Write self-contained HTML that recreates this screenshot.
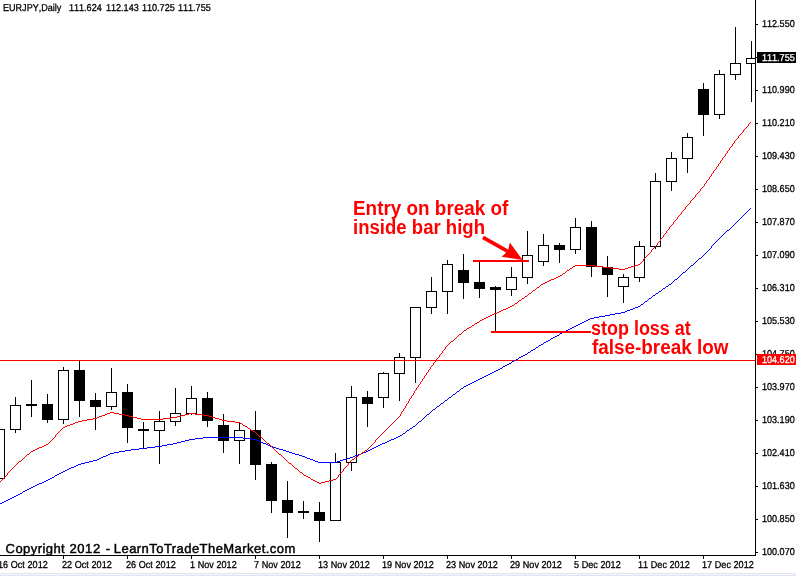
<!DOCTYPE html>
<html><head><meta charset="utf-8"><title>EURJPY Daily</title>
<style>
html,body{margin:0;padding:0;background:#fff;}
body{width:796px;height:576px;position:relative;overflow:hidden;font-family:"Liberation Sans",sans-serif;}
svg{position:absolute;left:0;top:0;}
.t{position:absolute;white-space:nowrap;font-size:10px;line-height:12px;color:#000;letter-spacing:0;-webkit-text-stroke:0.3px #000;text-rendering:geometricPrecision;font-kerning:none;transform:scaleX(0.905);transform-origin:0 0;}
.dt{letter-spacing:0.05px;}
.w{color:#fff;-webkit-text-stroke:0.3px #fff;}
.a{position:absolute;white-space:nowrap;font-weight:bold;color:#ff0000;font-size:19px;line-height:19px;transform-origin:0 16px;}
.cp{position:absolute;white-space:nowrap;font-weight:normal;color:#000;font-size:13px;line-height:16px;letter-spacing:0.47px;-webkit-text-stroke:0.45px #000;transform:translateY(0.6px);text-rendering:geometricPrecision;}
</style></head><body>
<svg width="796" height="576" viewBox="0 0 796 576" shape-rendering="crispEdges">
<rect x="0" y="0" width="796" height="576" fill="#fff"/>
<clipPath id="cl"><rect x="0" y="0" width="755" height="555"/></clipPath>
<g id="candles" clip-path="url(#cl)">
<rect x="-1" y="429" width="1" height="50" fill="#000"/>
<rect x="-6" y="429" width="11" height="50" fill="#000"/>
<rect x="-5" y="430" width="9" height="48" fill="#fff"/>
<rect x="15" y="397" width="1" height="36" fill="#000"/>
<rect x="10" y="405" width="11" height="25" fill="#000"/>
<rect x="11" y="406" width="9" height="23" fill="#fff"/>
<rect x="31" y="380" width="1" height="37" fill="#000"/>
<rect x="26" y="404" width="11" height="2" fill="#000"/>
<rect x="47" y="394" width="1" height="29" fill="#000"/>
<rect x="42" y="404" width="11" height="16" fill="#000"/>
<rect x="63" y="367" width="1" height="57" fill="#000"/>
<rect x="58" y="370" width="11" height="50" fill="#000"/>
<rect x="59" y="371" width="9" height="48" fill="#fff"/>
<rect x="79" y="360" width="1" height="57" fill="#000"/>
<rect x="74" y="370" width="11" height="31" fill="#000"/>
<rect x="95" y="393" width="1" height="37" fill="#000"/>
<rect x="90" y="400" width="11" height="7" fill="#000"/>
<rect x="111" y="368" width="1" height="42" fill="#000"/>
<rect x="106" y="392" width="11" height="15" fill="#000"/>
<rect x="107" y="393" width="9" height="13" fill="#fff"/>
<rect x="127" y="384" width="1" height="59" fill="#000"/>
<rect x="122" y="392" width="11" height="36" fill="#000"/>
<rect x="143" y="422" width="1" height="27" fill="#000"/>
<rect x="138" y="429" width="11" height="2" fill="#000"/>
<rect x="159" y="411" width="1" height="53" fill="#000"/>
<rect x="154" y="421" width="11" height="10" fill="#000"/>
<rect x="155" y="422" width="9" height="8" fill="#fff"/>
<rect x="175" y="388" width="1" height="38" fill="#000"/>
<rect x="170" y="413" width="11" height="9" fill="#000"/>
<rect x="171" y="414" width="9" height="7" fill="#fff"/>
<rect x="191" y="386" width="1" height="29" fill="#000"/>
<rect x="186" y="398" width="11" height="16" fill="#000"/>
<rect x="187" y="399" width="9" height="14" fill="#fff"/>
<rect x="207" y="392" width="1" height="35" fill="#000"/>
<rect x="202" y="398" width="11" height="23" fill="#000"/>
<rect x="223" y="414" width="1" height="39" fill="#000"/>
<rect x="218" y="425" width="11" height="16" fill="#000"/>
<rect x="239" y="422" width="1" height="42" fill="#000"/>
<rect x="234" y="430" width="11" height="11" fill="#000"/>
<rect x="235" y="431" width="9" height="9" fill="#fff"/>
<rect x="255" y="411" width="1" height="69" fill="#000"/>
<rect x="250" y="430" width="11" height="35" fill="#000"/>
<rect x="271" y="462" width="1" height="51" fill="#000"/>
<rect x="266" y="464" width="11" height="37" fill="#000"/>
<rect x="287" y="481" width="1" height="57" fill="#000"/>
<rect x="282" y="500" width="11" height="13" fill="#000"/>
<rect x="303" y="501" width="1" height="18" fill="#000"/>
<rect x="298" y="511" width="11" height="2" fill="#000"/>
<rect x="319" y="502" width="1" height="40" fill="#000"/>
<rect x="314" y="512" width="11" height="9" fill="#000"/>
<rect x="335" y="453" width="1" height="68" fill="#000"/>
<rect x="330" y="462" width="11" height="59" fill="#000"/>
<rect x="331" y="463" width="9" height="57" fill="#fff"/>
<rect x="351" y="386" width="1" height="85" fill="#000"/>
<rect x="346" y="397" width="11" height="66" fill="#000"/>
<rect x="347" y="398" width="9" height="64" fill="#fff"/>
<rect x="367" y="391" width="1" height="36" fill="#000"/>
<rect x="362" y="397" width="11" height="7" fill="#000"/>
<rect x="383" y="372" width="1" height="36" fill="#000"/>
<rect x="378" y="373" width="11" height="25" fill="#000"/>
<rect x="379" y="374" width="9" height="23" fill="#fff"/>
<rect x="399" y="353" width="1" height="48" fill="#000"/>
<rect x="394" y="357" width="11" height="17" fill="#000"/>
<rect x="395" y="358" width="9" height="15" fill="#fff"/>
<rect x="415" y="307" width="1" height="76" fill="#000"/>
<rect x="410" y="307" width="11" height="51" fill="#000"/>
<rect x="411" y="308" width="9" height="49" fill="#fff"/>
<rect x="431" y="277" width="1" height="37" fill="#000"/>
<rect x="426" y="291" width="11" height="17" fill="#000"/>
<rect x="427" y="292" width="9" height="15" fill="#fff"/>
<rect x="447" y="260" width="1" height="54" fill="#000"/>
<rect x="442" y="264" width="11" height="28" fill="#000"/>
<rect x="443" y="265" width="9" height="26" fill="#fff"/>
<rect x="463" y="254" width="1" height="45" fill="#000"/>
<rect x="458" y="270" width="11" height="13" fill="#000"/>
<rect x="479" y="261" width="1" height="37" fill="#000"/>
<rect x="474" y="282" width="11" height="7" fill="#000"/>
<rect x="495" y="286" width="1" height="45" fill="#000"/>
<rect x="490" y="287" width="11" height="3" fill="#000"/>
<rect x="511" y="267" width="1" height="29" fill="#000"/>
<rect x="506" y="277" width="11" height="13" fill="#000"/>
<rect x="507" y="278" width="9" height="11" fill="#fff"/>
<rect x="527" y="231" width="1" height="53" fill="#000"/>
<rect x="522" y="255" width="11" height="23" fill="#000"/>
<rect x="523" y="256" width="9" height="21" fill="#fff"/>
<rect x="543" y="234" width="1" height="32" fill="#000"/>
<rect x="538" y="245" width="11" height="17" fill="#000"/>
<rect x="539" y="246" width="9" height="15" fill="#fff"/>
<rect x="559" y="243" width="1" height="20" fill="#000"/>
<rect x="554" y="245" width="11" height="5" fill="#000"/>
<rect x="575" y="218" width="1" height="36" fill="#000"/>
<rect x="570" y="227" width="11" height="23" fill="#000"/>
<rect x="571" y="228" width="9" height="21" fill="#fff"/>
<rect x="591" y="221" width="1" height="56" fill="#000"/>
<rect x="586" y="227" width="11" height="40" fill="#000"/>
<rect x="607" y="256" width="1" height="41" fill="#000"/>
<rect x="602" y="267" width="11" height="8" fill="#000"/>
<rect x="623" y="274" width="1" height="29" fill="#000"/>
<rect x="618" y="277" width="11" height="10" fill="#000"/>
<rect x="619" y="278" width="9" height="8" fill="#fff"/>
<rect x="639" y="241" width="1" height="41" fill="#000"/>
<rect x="634" y="246" width="11" height="32" fill="#000"/>
<rect x="635" y="247" width="9" height="30" fill="#fff"/>
<rect x="655" y="173" width="1" height="76" fill="#000"/>
<rect x="650" y="181" width="11" height="66" fill="#000"/>
<rect x="651" y="182" width="9" height="64" fill="#fff"/>
<rect x="671" y="152" width="1" height="39" fill="#000"/>
<rect x="666" y="158" width="11" height="24" fill="#000"/>
<rect x="667" y="159" width="9" height="22" fill="#fff"/>
<rect x="687" y="133" width="1" height="40" fill="#000"/>
<rect x="682" y="137" width="11" height="22" fill="#000"/>
<rect x="683" y="138" width="9" height="20" fill="#fff"/>
<rect x="703" y="83" width="1" height="53" fill="#000"/>
<rect x="698" y="89" width="11" height="26" fill="#000"/>
<rect x="719" y="70" width="1" height="49" fill="#000"/>
<rect x="714" y="74" width="11" height="41" fill="#000"/>
<rect x="715" y="75" width="9" height="39" fill="#fff"/>
<rect x="735" y="27" width="1" height="53" fill="#000"/>
<rect x="730" y="63" width="11" height="12" fill="#000"/>
<rect x="731" y="64" width="9" height="10" fill="#fff"/>
<rect x="751" y="41" width="1" height="61" fill="#000"/>
<rect x="746" y="58" width="11" height="6" fill="#000"/>
<rect x="747" y="59" width="9" height="4" fill="#fff"/>
</g>
<rect x="0" y="360" width="755" height="1" fill="#ff0000"/>
<path d="M750 208h1v1h-1zM749 209h1v1h-1zM748 210h1v1h-1zM747 211h1v1h-1zM746 212h1v1h-1zM745 213h1v1h-1zM744 214h1v1h-1zM743 215h1v1h-1zM742 216h1v1h-1zM741 217h1v1h-1zM740 218h1v1h-1zM739 219h1v1h-1zM738 220h1v1h-1zM737 221h1v1h-1zM736 222h1v1h-1zM735 223h1v1h-1zM734 224h1v1h-1zM733 225h1v1h-1zM732 226h1v1h-1zM731 227h1v1h-1zM730 228h1v1h-1zM729 229h1v1h-1zM727 230h2v1h-2zM726 231h1v1h-1zM725 232h1v1h-1zM724 233h1v1h-1zM723 234h1v1h-1zM722 235h1v1h-1zM721 236h1v1h-1zM720 237h1v1h-1zM719 238h1v1h-1zM718 239h1v1h-1zM717 240h1v1h-1zM716 241h1v1h-1zM715 242h1v1h-1zM714 243h1v1h-1zM713 244h1v1h-1zM712 245h1v1h-1zM711 246h1v2h-1zM710 248h1v1h-1zM709 249h1v1h-1zM708 250h1v1h-1zM707 251h1v1h-1zM706 252h1v1h-1zM705 253h1v1h-1zM704 254h1v1h-1zM703 255h1v1h-1zM702 256h1v1h-1zM701 257h1v1h-1zM699 258h2v1h-2zM698 259h1v1h-1zM697 260h1v1h-1zM696 261h1v1h-1zM695 262h1v1h-1zM694 263h1v1h-1zM693 264h1v1h-1zM691 265h2v1h-2zM690 266h1v1h-1zM689 267h1v1h-1zM688 268h1v1h-1zM687 269h1v1h-1zM686 270h1v1h-1zM685 271h1v1h-1zM683 272h2v1h-2zM682 273h1v1h-1zM681 274h1v1h-1zM680 275h1v1h-1zM679 276h1v1h-1zM678 277h1v1h-1zM677 278h1v1h-1zM675 279h2v1h-2zM674 280h1v1h-1zM673 281h1v1h-1zM672 282h1v1h-1zM671 283h1v1h-1zM669 284h2v1h-2zM668 285h1v1h-1zM666 286h2v1h-2zM665 287h1v1h-1zM663 288h2v1h-2zM662 289h1v1h-1zM661 290h1v1h-1zM659 291h2v1h-2zM658 292h1v1h-1zM656 293h2v1h-2zM655 294h1v1h-1zM653 295h2v1h-2zM652 296h1v1h-1zM651 297h1v1h-1zM649 298h2v1h-2zM648 299h1v1h-1zM647 300h1v1h-1zM645 301h2v1h-2zM644 302h1v1h-1zM643 303h1v1h-1zM641 304h2v1h-2zM640 305h1v1h-1zM638 306h2v1h-2zM635 307h3v1h-3zM633 308h2v1h-2zM630 309h3v1h-3zM627 310h3v1h-3zM625 311h2v1h-2zM621 312h4v1h-4zM615 313h6v1h-6zM610 314h5v1h-5zM605 315h5v1h-5zM599 316h6v1h-6zM594 317h5v1h-5zM590 318h4v1h-4zM588 319h2v1h-2zM586 320h2v1h-2zM584 321h2v1h-2zM582 322h2v1h-2zM580 323h2v1h-2zM578 324h2v1h-2zM576 325h2v1h-2zM574 326h2v1h-2zM572 327h2v1h-2zM570 328h2v1h-2zM568 329h2v1h-2zM566 330h2v1h-2zM564 331h2v1h-2zM562 332h2v1h-2zM560 333h2v1h-2zM559 334h1v1h-1zM557 335h2v1h-2zM555 336h2v1h-2zM553 337h2v1h-2zM551 338h2v1h-2zM550 339h1v1h-1zM548 340h2v1h-2zM546 341h2v1h-2zM544 342h2v1h-2zM543 343h1v1h-1zM541 344h2v1h-2zM539 345h2v1h-2zM538 346h1v1h-1zM536 347h2v1h-2zM535 348h1v1h-1zM533 349h2v1h-2zM531 350h2v1h-2zM530 351h1v1h-1zM528 352h2v1h-2zM527 353h1v1h-1zM525 354h2v1h-2zM523 355h2v1h-2zM521 356h2v1h-2zM519 357h2v1h-2zM518 358h1v1h-1zM516 359h2v1h-2zM514 360h2v1h-2zM512 361h2v1h-2zM511 362h1v1h-1zM509 363h2v1h-2zM507 364h2v1h-2zM505 365h2v1h-2zM503 366h2v1h-2zM502 367h1v1h-1zM500 368h2v1h-2zM498 369h2v1h-2zM496 370h2v1h-2zM494 371h2v1h-2zM492 372h2v1h-2zM490 373h2v1h-2zM488 374h2v1h-2zM486 375h2v1h-2zM484 376h2v1h-2zM482 377h2v1h-2zM480 378h2v1h-2zM478 379h2v1h-2zM476 380h2v1h-2zM474 381h2v1h-2zM472 382h2v1h-2zM470 383h2v1h-2zM468 384h2v1h-2zM466 385h2v1h-2zM464 386h2v1h-2zM463 387h1v1h-1zM461 388h2v1h-2zM460 389h1v1h-1zM459 390h1v1h-1zM457 391h2v1h-2zM456 392h1v1h-1zM455 393h1v1h-1zM453 394h2v1h-2zM452 395h1v1h-1zM451 396h1v1h-1zM449 397h2v1h-2zM448 398h1v1h-1zM447 399h1v1h-1zM445 400h2v1h-2zM444 401h1v1h-1zM443 402h1v1h-1zM441 403h2v1h-2zM440 404h1v1h-1zM439 405h1v1h-1zM437 406h2v1h-2zM436 407h1v1h-1zM435 408h1v1h-1zM433 409h2v1h-2zM432 410h1v1h-1zM431 411h1v1h-1zM430 412h1v1h-1zM429 413h1v1h-1zM427 414h2v1h-2zM426 415h1v1h-1zM425 416h1v1h-1zM424 417h1v1h-1zM423 418h1v1h-1zM422 419h1v1h-1zM421 420h1v1h-1zM419 421h2v1h-2zM418 422h1v1h-1zM417 423h1v1h-1zM416 424h1v1h-1zM415 425h1v1h-1zM413 426h2v1h-2zM412 427h1v1h-1zM410 428h2v1h-2zM409 429h1v1h-1zM407 430h2v1h-2zM406 431h1v1h-1zM405 432h1v1h-1zM403 433h2v1h-2zM402 434h1v1h-1zM400 435h2v1h-2zM398 436h2v1h-2zM203 437h40v1h-40zM396 437h2v1h-2zM195 438h8v1h-8zM243 438h8v1h-8zM394 438h2v1h-2zM189 439h6v1h-6zM251 439h6v1h-6zM391 439h3v1h-3zM185 440h4v1h-4zM257 440h2v1h-2zM389 440h2v1h-2zM181 441h4v1h-4zM259 441h2v1h-2zM387 441h2v1h-2zM177 442h4v1h-4zM261 442h2v1h-2zM385 442h2v1h-2zM173 443h4v1h-4zM263 443h3v1h-3zM382 443h3v1h-3zM167 444h6v1h-6zM266 444h2v1h-2zM380 444h2v1h-2zM162 445h5v1h-5zM268 445h2v1h-2zM378 445h2v1h-2zM155 446h7v1h-7zM270 446h3v1h-3zM376 446h2v1h-2zM147 447h8v1h-8zM273 447h3v1h-3zM374 447h2v1h-2zM139 448h8v1h-8zM276 448h3v1h-3zM372 448h2v1h-2zM131 449h8v1h-8zM279 449h4v1h-4zM370 449h2v1h-2zM125 450h6v1h-6zM283 450h3v1h-3zM368 450h2v1h-2zM119 451h6v1h-6zM286 451h3v1h-3zM366 451h2v1h-2zM114 452h5v1h-5zM289 452h3v1h-3zM363 452h3v1h-3zM110 453h4v1h-4zM292 453h3v1h-3zM361 453h2v1h-2zM108 454h2v1h-2zM295 454h4v1h-4zM358 454h3v1h-3zM106 455h2v1h-2zM299 455h3v1h-3zM355 455h3v1h-3zM103 456h3v1h-3zM302 456h3v1h-3zM353 456h2v1h-2zM101 457h2v1h-2zM305 457h2v1h-2zM350 457h3v1h-3zM99 458h2v1h-2zM307 458h3v1h-3zM347 458h3v1h-3zM97 459h2v1h-2zM310 459h3v1h-3zM343 459h4v1h-4zM93 460h4v1h-4zM313 460h2v1h-2zM340 460h3v1h-3zM89 461h4v1h-4zM315 461h3v1h-3zM337 461h3v1h-3zM85 462h4v1h-4zM318 462h19v1h-19zM81 463h4v1h-4zM78 464h3v1h-3zM76 465h2v1h-2zM74 466h2v1h-2zM71 467h3v1h-3zM69 468h2v1h-2zM67 469h2v1h-2zM65 470h2v1h-2zM63 471h2v1h-2zM61 472h2v1h-2zM59 473h2v1h-2zM57 474h2v1h-2zM55 475h2v1h-2zM54 476h1v1h-1zM52 477h2v1h-2zM50 478h2v1h-2zM48 479h2v1h-2zM46 480h2v1h-2zM44 481h2v1h-2zM42 482h2v1h-2zM39 483h3v1h-3zM37 484h2v1h-2zM35 485h2v1h-2zM33 486h2v1h-2zM31 487h2v1h-2zM29 488h2v1h-2zM27 489h2v1h-2zM25 490h2v1h-2zM23 491h2v1h-2zM22 492h1v1h-1zM20 493h2v1h-2zM18 494h2v1h-2zM16 495h2v1h-2zM14 496h2v1h-2zM12 497h2v1h-2zM10 498h2v1h-2zM8 499h2v1h-2zM6 500h2v1h-2zM4 501h2v1h-2zM2 502h2v1h-2zM0 503h2v1h-2z" fill="#0000ff"/>
<path d="M750 122h1v1h-1zM749 123h1v1h-1zM748 124h1v2h-1zM747 126h1v1h-1zM746 127h1v1h-1zM745 128h1v1h-1zM744 129h1v1h-1zM743 130h1v2h-1zM742 132h1v1h-1zM741 133h1v1h-1zM740 134h1v1h-1zM739 135h1v1h-1zM738 136h1v2h-1zM737 138h1v1h-1zM736 139h1v1h-1zM735 140h1v1h-1zM734 141h1v2h-1zM733 143h1v1h-1zM732 144h1v2h-1zM731 146h1v1h-1zM730 147h1v1h-1zM729 148h1v2h-1zM728 150h1v1h-1zM727 151h1v2h-1zM726 153h1v1h-1zM725 154h1v2h-1zM724 156h1v1h-1zM723 157h1v1h-1zM722 158h1v2h-1zM721 160h1v1h-1zM720 161h1v2h-1zM719 163h1v1h-1zM718 164h1v2h-1zM717 166h1v1h-1zM716 167h1v2h-1zM715 169h1v1h-1zM714 170h1v1h-1zM713 171h1v2h-1zM712 173h1v1h-1zM711 174h1v2h-1zM710 176h1v1h-1zM709 177h1v2h-1zM708 179h1v1h-1zM707 180h1v1h-1zM706 181h1v2h-1zM705 183h1v1h-1zM704 184h1v2h-1zM703 186h1v1h-1zM702 187h1v1h-1zM701 188h1v1h-1zM700 189h1v2h-1zM699 191h1v1h-1zM698 192h1v1h-1zM697 193h1v1h-1zM696 194h1v1h-1zM695 195h1v2h-1zM694 197h1v1h-1zM693 198h1v1h-1zM692 199h1v1h-1zM691 200h1v1h-1zM690 201h1v2h-1zM689 203h1v1h-1zM688 204h1v1h-1zM687 205h1v1h-1zM686 206h1v1h-1zM685 207h1v2h-1zM684 209h1v1h-1zM683 210h1v1h-1zM682 211h1v1h-1zM681 212h1v2h-1zM680 214h1v1h-1zM679 215h1v1h-1zM678 216h1v1h-1zM677 217h1v2h-1zM676 219h1v1h-1zM675 220h1v1h-1zM674 221h1v1h-1zM673 222h1v2h-1zM672 224h1v1h-1zM671 225h1v1h-1zM670 226h1v1h-1zM669 227h1v2h-1zM668 229h1v1h-1zM667 230h1v1h-1zM666 231h1v2h-1zM665 233h1v1h-1zM664 234h1v1h-1zM663 235h1v2h-1zM662 237h1v1h-1zM661 238h1v1h-1zM660 239h1v2h-1zM659 241h1v1h-1zM658 242h1v1h-1zM657 243h1v2h-1zM656 245h1v1h-1zM655 246h1v1h-1zM654 247h1v1h-1zM653 248h1v1h-1zM652 249h1v1h-1zM651 250h1v2h-1zM650 252h1v1h-1zM649 253h1v1h-1zM648 254h1v1h-1zM647 255h1v1h-1zM646 256h1v1h-1zM645 257h1v1h-1zM644 258h1v1h-1zM643 259h1v2h-1zM642 261h1v1h-1zM641 262h1v1h-1zM640 263h1v1h-1zM638 264h2v1h-2zM575 265h20v1h-20zM635 265h3v1h-3zM573 266h2v1h-2zM595 266h8v1h-8zM631 266h4v1h-4zM572 267h1v1h-1zM603 267h8v1h-8zM628 267h3v1h-3zM570 268h2v1h-2zM611 268h8v1h-8zM625 268h3v1h-3zM569 269h1v1h-1zM619 269h6v1h-6zM567 270h2v1h-2zM566 271h1v1h-1zM565 272h1v1h-1zM563 273h2v1h-2zM562 274h1v1h-1zM560 275h2v1h-2zM558 276h2v1h-2zM556 277h2v1h-2zM554 278h2v1h-2zM551 279h3v1h-3zM549 280h2v1h-2zM547 281h2v1h-2zM545 282h2v1h-2zM543 283h2v1h-2zM541 284h2v1h-2zM540 285h1v1h-1zM539 286h1v1h-1zM537 287h2v1h-2zM536 288h1v1h-1zM535 289h1v1h-1zM533 290h2v1h-2zM532 291h1v1h-1zM531 292h1v1h-1zM529 293h2v1h-2zM528 294h1v1h-1zM527 295h1v1h-1zM525 296h2v1h-2zM524 297h1v1h-1zM522 298h2v1h-2zM521 299h1v1h-1zM519 300h2v1h-2zM518 301h1v1h-1zM517 302h1v1h-1zM515 303h2v1h-2zM514 304h1v1h-1zM512 305h2v1h-2zM510 306h2v1h-2zM508 307h2v1h-2zM506 308h2v1h-2zM503 309h3v1h-3zM501 310h2v1h-2zM499 311h2v1h-2zM497 312h2v1h-2zM494 313h3v1h-3zM492 314h2v1h-2zM490 315h2v1h-2zM488 316h2v1h-2zM486 317h2v1h-2zM484 318h2v1h-2zM482 319h2v1h-2zM480 320h2v1h-2zM479 321h1v1h-1zM477 322h2v1h-2zM475 323h2v1h-2zM474 324h1v1h-1zM472 325h2v1h-2zM471 326h1v1h-1zM469 327h2v1h-2zM467 328h2v1h-2zM466 329h1v1h-1zM464 330h2v1h-2zM463 331h1v1h-1zM462 332h1v1h-1zM461 333h1v1h-1zM459 334h2v1h-2zM458 335h1v1h-1zM457 336h1v1h-1zM456 337h1v1h-1zM455 338h1v1h-1zM454 339h1v1h-1zM453 340h1v1h-1zM451 341h2v1h-2zM450 342h1v1h-1zM449 343h1v1h-1zM448 344h1v1h-1zM447 345h1v1h-1zM446 346h1v1h-1zM445 347h1v2h-1zM444 349h1v1h-1zM443 350h1v1h-1zM442 351h1v2h-1zM441 353h1v1h-1zM440 354h1v1h-1zM439 355h1v2h-1zM438 357h1v1h-1zM437 358h1v1h-1zM436 359h1v2h-1zM435 361h1v1h-1zM434 362h1v1h-1zM433 363h1v2h-1zM432 365h1v1h-1zM431 366h1v1h-1zM430 367h1v2h-1zM429 369h1v1h-1zM428 370h1v2h-1zM427 372h1v1h-1zM426 373h1v2h-1zM425 375h1v1h-1zM424 376h1v2h-1zM423 378h1v1h-1zM422 379h1v2h-1zM421 381h1v1h-1zM420 382h1v2h-1zM419 384h1v1h-1zM418 385h1v2h-1zM417 387h1v1h-1zM416 388h1v2h-1zM415 390h1v1h-1zM414 391h1v2h-1zM413 393h1v2h-1zM412 395h1v1h-1zM411 396h1v2h-1zM410 398h1v1h-1zM409 399h1v2h-1zM408 401h1v2h-1zM407 403h1v1h-1zM406 404h1v2h-1zM405 406h1v2h-1zM404 408h1v1h-1zM403 409h1v2h-1zM402 411h1v1h-1zM110 412h4v1h-4zM401 412h1v2h-1zM107 413h3v1h-3zM114 413h5v1h-5zM189 413h6v1h-6zM105 414h2v1h-2zM119 414h6v1h-6zM185 414h4v1h-4zM195 414h8v1h-8zM400 414h1v2h-1zM102 415h3v1h-3zM125 415h4v1h-4zM181 415h4v1h-4zM203 415h6v1h-6zM99 416h3v1h-3zM129 416h4v1h-4zM177 416h4v1h-4zM209 416h3v1h-3zM399 416h1v1h-1zM97 417h2v1h-2zM133 417h4v1h-4zM171 417h6v1h-6zM212 417h3v1h-3zM398 417h1v1h-1zM93 418h4v1h-4zM137 418h4v1h-4zM163 418h8v1h-8zM215 418h4v1h-4zM397 418h1v1h-1zM87 419h6v1h-6zM141 419h22v1h-22zM219 419h3v1h-3zM396 419h1v1h-1zM82 420h5v1h-5zM222 420h5v1h-5zM395 420h1v1h-1zM78 421h4v1h-4zM227 421h8v1h-8zM394 421h1v1h-1zM75 422h3v1h-3zM235 422h5v1h-5zM393 422h1v1h-1zM73 423h2v1h-2zM240 423h2v1h-2zM392 423h1v1h-1zM70 424h3v1h-3zM242 424h1v1h-1zM391 424h1v1h-1zM67 425h3v1h-3zM243 425h2v1h-2zM390 425h1v1h-1zM65 426h2v1h-2zM245 426h2v1h-2zM389 426h1v1h-1zM63 427h2v1h-2zM247 427h1v1h-1zM388 427h1v1h-1zM62 428h1v1h-1zM248 428h2v1h-2zM387 428h1v1h-1zM61 429h1v1h-1zM250 429h1v1h-1zM386 429h1v1h-1zM60 430h1v1h-1zM251 430h2v1h-2zM385 430h1v1h-1zM59 431h1v1h-1zM253 431h2v1h-2zM384 431h1v1h-1zM58 432h1v1h-1zM255 432h1v1h-1zM383 432h1v1h-1zM57 433h1v1h-1zM256 433h1v1h-1zM382 433h1v1h-1zM56 434h1v1h-1zM257 434h1v1h-1zM381 434h1v1h-1zM258 435h1v1h-1zM380 435h1v1h-1zM55 435h1v2h-1zM259 436h2v1h-2zM379 436h1v1h-1zM54 437h1v1h-1zM261 437h1v1h-1zM378 437h1v1h-1zM53 438h1v1h-1zM262 438h1v1h-1zM377 438h1v1h-1zM52 439h1v1h-1zM263 439h1v1h-1zM376 439h1v1h-1zM51 440h1v1h-1zM264 440h1v1h-1zM375 440h1v2h-1zM50 441h1v1h-1zM265 441h1v1h-1zM49 442h1v1h-1zM266 442h1v1h-1zM374 442h1v1h-1zM48 443h1v1h-1zM267 443h2v1h-2zM373 443h1v1h-1zM46 444h2v1h-2zM269 444h1v1h-1zM372 444h1v1h-1zM44 445h2v1h-2zM270 445h1v1h-1zM371 445h1v1h-1zM42 446h2v1h-2zM271 446h1v1h-1zM370 446h1v1h-1zM39 447h3v1h-3zM272 447h1v1h-1zM369 447h1v1h-1zM37 448h2v1h-2zM273 448h1v1h-1zM368 448h1v1h-1zM35 449h2v1h-2zM274 449h1v1h-1zM367 449h1v1h-1zM33 450h2v1h-2zM275 450h1v1h-1zM365 450h2v1h-2zM31 451h2v1h-2zM276 451h1v1h-1zM364 451h1v1h-1zM30 452h1v1h-1zM277 452h1v1h-1zM362 452h2v1h-2zM29 453h1v1h-1zM278 453h1v1h-1zM361 453h1v1h-1zM27 454h2v1h-2zM279 454h2v1h-2zM359 454h2v1h-2zM26 455h1v1h-1zM281 455h1v1h-1zM358 455h1v1h-1zM25 456h1v1h-1zM282 456h1v1h-1zM357 456h1v1h-1zM24 457h1v1h-1zM283 457h1v1h-1zM355 457h2v1h-2zM23 458h1v1h-1zM284 458h1v1h-1zM354 458h1v1h-1zM22 459h1v1h-1zM285 459h1v1h-1zM352 459h2v1h-2zM21 460h1v1h-1zM286 460h1v1h-1zM351 460h1v1h-1zM19 461h2v1h-2zM287 461h1v1h-1zM350 461h1v1h-1zM18 462h1v1h-1zM288 462h1v1h-1zM349 462h1v1h-1zM17 463h1v1h-1zM289 463h2v1h-2zM348 463h1v2h-1zM16 464h1v1h-1zM291 464h1v1h-1zM15 465h1v1h-1zM292 465h1v1h-1zM347 465h1v1h-1zM14 466h1v1h-1zM293 466h1v1h-1zM346 466h1v1h-1zM13 467h1v1h-1zM294 467h1v1h-1zM345 467h1v1h-1zM12 468h1v1h-1zM295 468h2v1h-2zM344 468h1v1h-1zM11 469h1v1h-1zM297 469h1v1h-1zM343 469h1v2h-1zM10 470h1v1h-1zM298 470h1v1h-1zM9 471h1v1h-1zM299 471h1v1h-1zM342 471h1v1h-1zM8 472h1v1h-1zM300 472h2v1h-2zM341 472h1v1h-1zM302 473h1v1h-1zM340 473h1v1h-1zM7 473h1v2h-1zM303 474h1v1h-1zM339 474h1v1h-1zM6 475h1v1h-1zM304 475h2v1h-2zM338 475h1v2h-1zM5 476h1v1h-1zM306 476h2v1h-2zM4 477h1v1h-1zM308 477h2v1h-2zM337 477h1v1h-1zM3 478h1v1h-1zM310 478h1v1h-1zM336 478h1v1h-1zM2 479h1v1h-1zM311 479h2v1h-2zM333 479h3v1h-3zM1 480h1v1h-1zM313 480h2v1h-2zM329 480h4v1h-4zM0 481h1v1h-1zM315 481h2v1h-2zM325 481h4v1h-4zM317 482h2v1h-2zM321 482h4v1h-4zM319 483h2v1h-2z" fill="#ff0000"/>
<g id="objects">
<rect x="473" y="260" width="56" height="2" fill="#ff0000"/>
<rect x="491" y="331" width="100" height="2" fill="#ff0000"/>
<g shape-rendering="geometricPrecision">
<line x1="483" y1="237.4" x2="510" y2="252.6" stroke="#ff0000" stroke-width="3.8"/>
<polygon points="522.6,260 509.8,242.6 508,251 501.6,256.8" fill="#ff0000"/>
</g>
</g>
<g id="axes">
<rect x="755" y="0" width="1" height="556" fill="#000"/>
<rect x="0" y="555" width="756" height="1" fill="#000"/>
<rect x="756" y="24" width="2" height="1" fill="#000"/>
<rect x="756" y="90" width="2" height="1" fill="#000"/>
<rect x="756" y="123" width="2" height="1" fill="#000"/>
<rect x="756" y="156" width="2" height="1" fill="#000"/>
<rect x="756" y="189" width="2" height="1" fill="#000"/>
<rect x="756" y="222" width="2" height="1" fill="#000"/>
<rect x="756" y="255" width="2" height="1" fill="#000"/>
<rect x="756" y="288" width="2" height="1" fill="#000"/>
<rect x="756" y="321" width="2" height="1" fill="#000"/>
<rect x="756" y="354" width="2" height="1" fill="#000"/>
<rect x="756" y="387" width="2" height="1" fill="#000"/>
<rect x="756" y="420" width="2" height="1" fill="#000"/>
<rect x="756" y="453" width="2" height="1" fill="#000"/>
<rect x="756" y="486" width="2" height="1" fill="#000"/>
<rect x="756" y="519" width="2" height="1" fill="#000"/>
<rect x="756" y="552" width="2" height="1" fill="#000"/>
<rect x="-1" y="556" width="1" height="3" fill="#000"/>
<rect x="63" y="556" width="1" height="3" fill="#000"/>
<rect x="127" y="556" width="1" height="3" fill="#000"/>
<rect x="191" y="556" width="1" height="3" fill="#000"/>
<rect x="255" y="556" width="1" height="3" fill="#000"/>
<rect x="319" y="556" width="1" height="3" fill="#000"/>
<rect x="383" y="556" width="1" height="3" fill="#000"/>
<rect x="447" y="556" width="1" height="3" fill="#000"/>
<rect x="511" y="556" width="1" height="3" fill="#000"/>
<rect x="575" y="556" width="1" height="3" fill="#000"/>
<rect x="639" y="556" width="1" height="3" fill="#000"/>
<rect x="703" y="556" width="1" height="3" fill="#000"/>
<rect x="756" y="57" width="1" height="1" fill="#000"/>
<rect x="0" y="573" width="796" height="1" fill="#e3e3e3"/>
<rect x="0" y="574" width="796" height="1" fill="#f6f8fb"/>
<rect x="0" y="575" width="796" height="1" fill="#dbe5f3"/>
</g>
</svg>
<div class="t" style="left:3px;top:3px;letter-spacing:0">EURJPY,Daily</div>
<div class="t" style="left:69.3px;top:3px">111.624</div>
<div class="t" style="left:105.5px;top:3px">112.143</div>
<div class="t" style="left:141.5px;top:3px">110.725</div>
<div class="t" style="left:177.5px;top:3px">111.755</div>
<div class="t ax" style="left:761.6px;top:19px">112.550</div>
<div class="t ax" style="left:761.6px;top:85px">110.990</div>
<div class="t ax" style="left:761.6px;top:118px">110.210</div>
<div class="t ax" style="left:761.6px;top:151px">109.430</div>
<div class="t ax" style="left:761.6px;top:184px">108.650</div>
<div class="t ax" style="left:761.6px;top:217px">107.870</div>
<div class="t ax" style="left:761.6px;top:250px">107.090</div>
<div class="t ax" style="left:761.6px;top:283px">106.310</div>
<div class="t ax" style="left:761.6px;top:316px">105.530</div>
<div class="t ax" style="left:761.6px;top:349px">104.750</div>
<div class="t ax" style="left:761.6px;top:382px">103.970</div>
<div class="t ax" style="left:761.6px;top:415px">103.190</div>
<div class="t ax" style="left:761.6px;top:448px">102.410</div>
<div class="t ax" style="left:761.6px;top:481px">101.630</div>
<div class="t ax" style="left:761.6px;top:514px">100.850</div>
<div class="t ax" style="left:761.6px;top:547px">100.070</div>
<div class="t dt" style="left:-1.7px;top:560px">16 Oct 2012</div>
<div class="t dt" style="left:62.3px;top:560px">22 Oct 2012</div>
<div class="t dt" style="left:126.3px;top:560px">26 Oct 2012</div>
<div class="t dt" style="left:190.3px;top:560px">1 Nov 2012</div>
<div class="t dt" style="left:254.3px;top:560px">7 Nov 2012</div>
<div class="t dt" style="left:318.3px;top:560px">13 Nov 2012</div>
<div class="t dt" style="left:382.3px;top:560px">19 Nov 2012</div>
<div class="t dt" style="left:446.3px;top:560px">23 Nov 2012</div>
<div class="t dt" style="left:510.3px;top:560px">29 Nov 2012</div>
<div class="t dt" style="left:574.3px;top:560px">5 Dec 2012</div>
<div class="t dt" style="left:638.3px;top:560px">11 Dec 2012</div>
<div class="t dt" style="left:702.3px;top:560px">17 Dec 2012</div>
<div style="position:absolute;left:757px;top:52px;width:39px;height:11px;background:#000"></div>
<div style="position:absolute;left:757px;top:354px;width:39px;height:11px;background:#ff0000"></div>
<div class="t w" style="left:761.6px;top:53px">111.755</div>
<div class="t w" style="left:761.6px;top:355px">104.620</div>
<div class="a" id="a1" style="left:353px;top:199px;transform:scale(0.994,1.05)">Entry on break of</div>
<div class="a" id="a2" style="left:353px;top:217.6px;transform:scale(0.977,1.05)">inside bar high</div>
<div class="a" id="a3" style="left:590.6px;top:319px;transform:scale(0.945,1.05)">stop loss at</div>
<div class="a" id="a4" style="left:591.5px;top:337.6px;transform:scale(0.994,1.05)">false-break low</div>
<div class="cp" style="left:5.6px;top:540px;letter-spacing:0.43px">Copyright</div>
<div class="cp" style="left:69.5px;top:540px;letter-spacing:0.57px">2012</div>
<div class="cp" style="left:105.7px;top:540px">-</div>
<div class="cp" style="left:113.8px;top:540px;letter-spacing:0.446px">LearnToTradeTheMarket.com</div>
</body></html>
